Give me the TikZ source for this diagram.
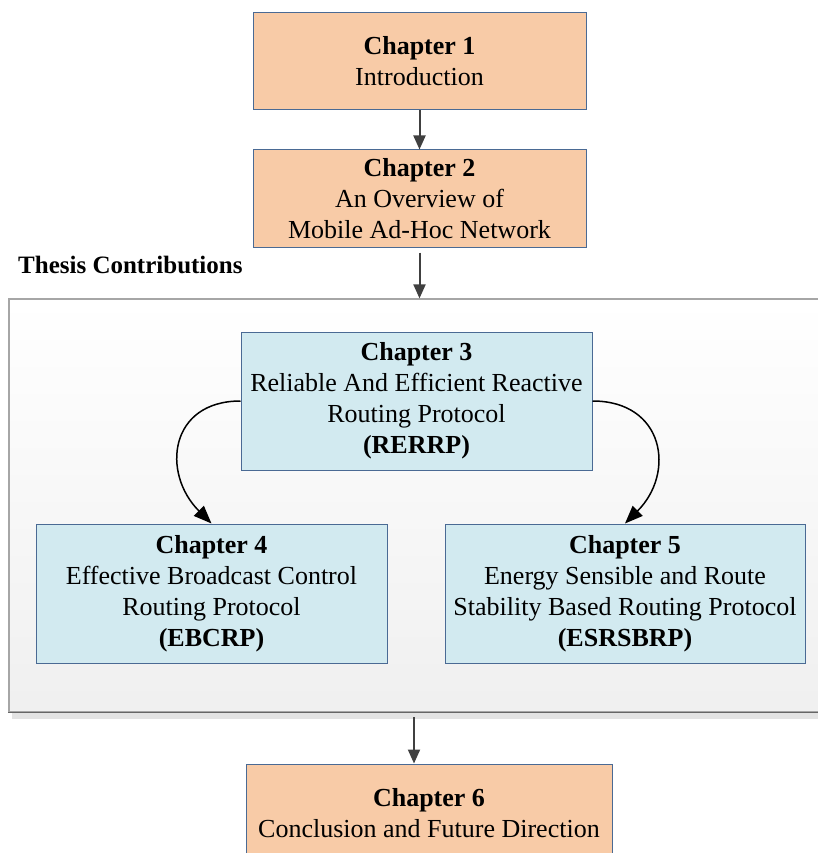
\documentclass[tikz,border=0pt]{standalone}
\usepackage{fontspec}
\setmainfont{Liberation Serif}
\usetikzlibrary{arrows.meta,calc}
\definecolor{peach}{HTML}{F8CBA7}
\definecolor{paleblue}{HTML}{D2EAF0}
\definecolor{boxedge}{HTML}{4A6A94}
\definecolor{arrowgray}{HTML}{404040}
\begin{document}
\begin{tikzpicture}[x=1pt,y=-1pt,
  chapbox/.style={draw=boxedge, line width=1pt, align=center, inner sep=0pt,
    font=\fontsize{26}{31}\selectfont},
  orangebox/.style={chapbox, fill=peach},
  bluebox/.style={chapbox, fill=paleblue},
  flow/.style={draw=arrowgray, line width=2pt, -{Triangle[length=14pt,width=12pt]}},
  curve/.style={draw=black, line width=1.5pt, -{Triangle[length=18pt,width=14pt]}}]
\useasboundingbox (0,0) rectangle (817,853);

% group frame with a soft shadow underneath
\fill[gray!22] (12,712) rectangle (830,719);
\node[draw=gray!70, line width=1.2pt, top color=white, bottom color=gray!12,
      minimum width=821, minimum height=413, inner sep=0pt] (cont) at (419.5,505.5) {};
\draw[gray!80!black, line width=1.2pt] (cont.south west) -- (cont.south east);

\node[anchor=west, inner sep=0pt, font=\bfseries\fontsize{25}{30}\selectfont]
  (thesis) at (18,265) {Thesis Contributions};

% chapter boxes
\node[orangebox, minimum width=333, minimum height=97] (ch1) at (419.5,61.5)
  {\textbf{Chapter 1}\\Introduction};
\node[orangebox, minimum width=333, minimum height=97] (ch2) at (419.5,198.5)
  {\textbf{Chapter 2}\\An Overview of\\Mobile Ad-Hoc Network};
\node[bluebox, minimum width=351, minimum height=138] (ch3) at (416.5,401)
  {\textbf{Chapter 3}\\Reliable And Efficient Reactive\\Routing Protocol\\\textbf{(RERRP)}};
\node[bluebox, minimum width=351, minimum height=139] (ch4) at (211.5,593.5)
  {\textbf{Chapter 4}\\Effective Broadcast Control\\Routing Protocol\\\textbf{(EBCRP)}};
\node[bluebox, minimum width=360, minimum height=139] (ch5) at (625,593.5)
  {\textbf{Chapter 5}\\Energy Sensible and Route\\Stability Based Routing Protocol\\\textbf{(ESRSBRP)}};
\node[orangebox, minimum width=366, minimum height=99] (ch6) at (429,813.5)
  {\textbf{Chapter 6}\\Conclusion and Future Direction};

% connectors
\draw[flow] (ch1) -- (ch2);
\draw[flow, shorten <=5pt] (ch2.south) -- (cont.north);
\coordinate (contout) at (414,717);
\draw[flow] (contout) -- (contout |- ch6.north);
\draw[curve] (ch3.west) to[out=180, in=135, looseness=1.45] (ch4.north);
\draw[curve] (ch3.east) to[out=0, in=45, looseness=1.45] (ch5.north);
\end{tikzpicture}
\end{document}
